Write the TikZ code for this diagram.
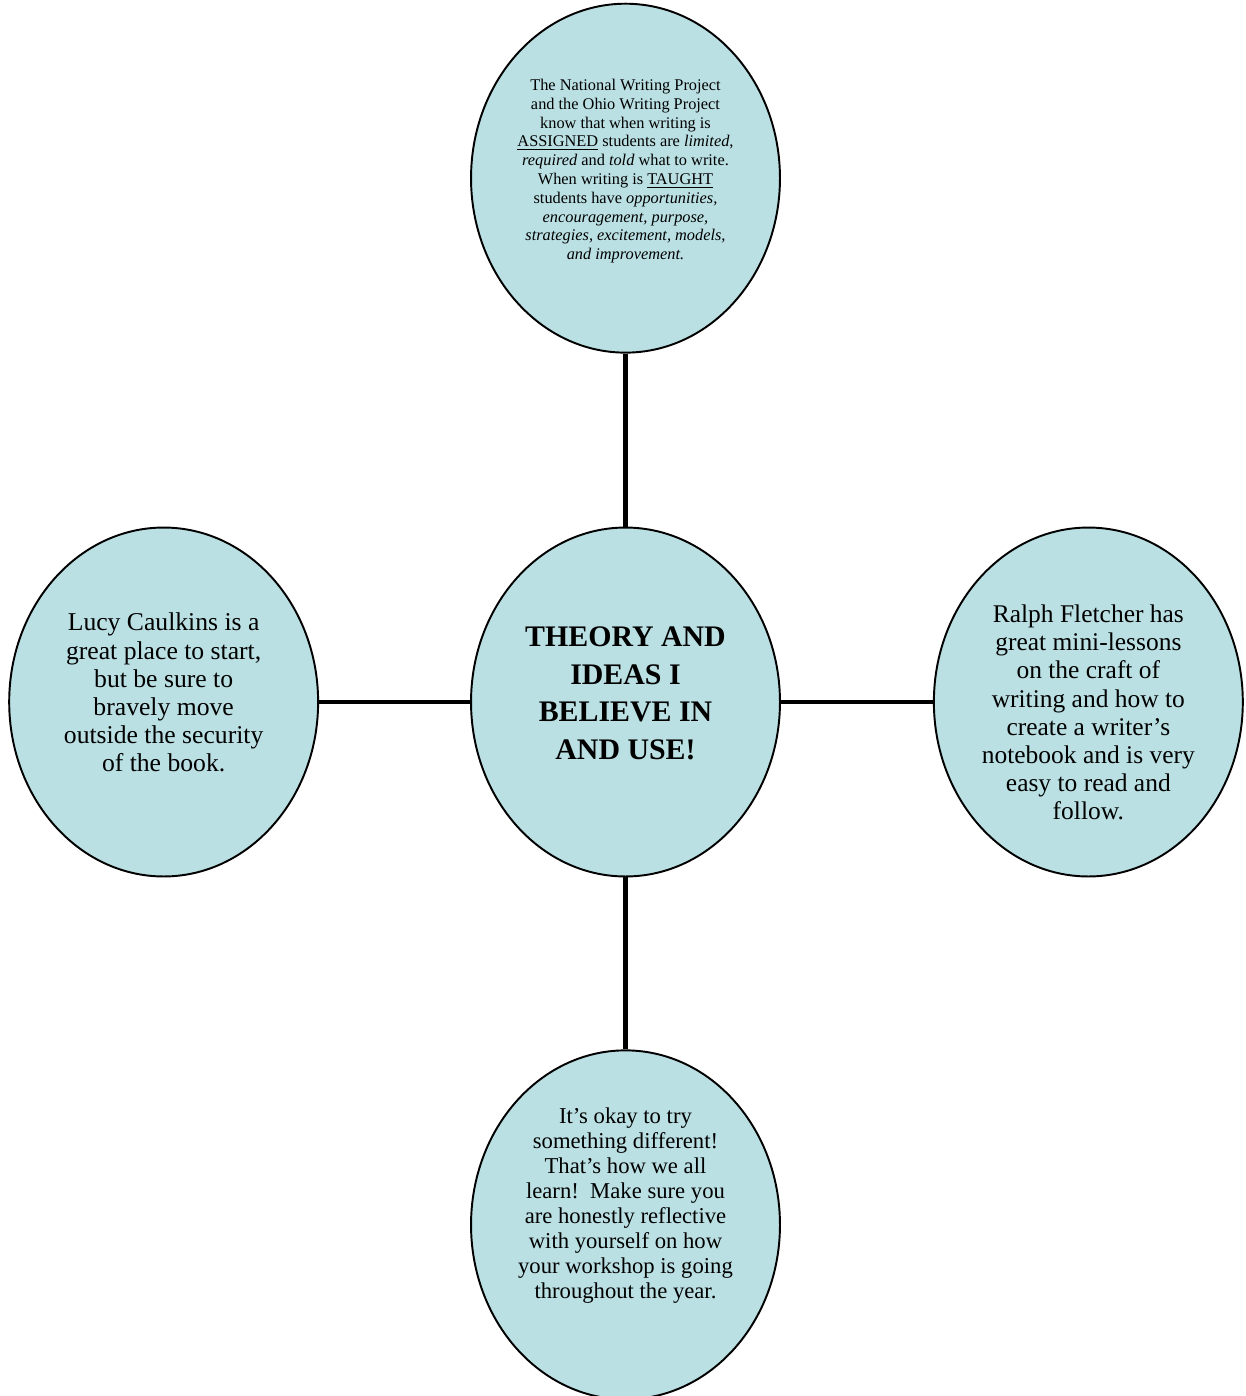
\documentclass[tikz,border=0pt]{standalone}
\usepackage{fontspec}
\setmainfont{Liberation Serif}
\usetikzlibrary{shapes.geometric,positioning}
\definecolor{bubblefill}{HTML}{BAE0E3}

\begin{document}
\begin{tikzpicture}[x=0.02cm, y=-0.02cm,
    bubble/.style={ellipse, draw, line width=1.1pt, fill=bubblefill,
      minimum width=6.18cm, minimum height=6.98cm, inner sep=0pt},
    spoke/.style={line width=2.8pt},
    txt/.style={align=center, inner sep=0pt}]
  \useasboundingbox (0,0) rectangle (1246,1396);
  % the five bubbles
  \node[bubble] (hub) at (625.5,702) {};
  \node[bubble, above=3.46cm of hub] (top) {};
  \node[bubble, below=3.44cm of hub] (bottom) {};
  \node[bubble, left=3.02cm of hub] (left) {};
  \node[bubble, right=3.04cm of hub] (right) {};
  % spokes
  \draw[spoke] (hub) -- (top);
  \draw[spoke] (hub) -- (bottom);
  \draw[spoke] (hub) -- (left);
  \draw[spoke] (hub) -- (right);
  % texts
  \node[txt, font=\fontsize{17}{21.4}\selectfont\bfseries] (hubT)
    at ([yshift=0.17cm]hub.center) {THEORY AND\\IDEAS I\\BELIEVE IN\\AND USE!};
  \node[txt, font=\fontsize{9.3}{10.7}\selectfont] (topT)
    at ([yshift=0.14cm]top.center) {The National Writing Project\\
    and the Ohio Writing Project\\know that when writing is\\
    \underline{ASSIGNED} students are \textit{limited},\\
    \textit{required} and \textit{told} what to write.\\
    When writing is \underline{TAUGHT}\\
    students have \textit{opportunities,}\\
    \textit{encouragement, purpose,}\\
    \textit{strategies, excitement, models,}\\
    \textit{and improvement.}};
  \node[txt, font=\fontsize{14.6}{16}\selectfont] (leftT)
    at ([yshift=0.19cm]left.center) {Lucy Caulkins is a\\great place to start,\\
    but be sure to\\bravely move\\outside the security\\of the book.};
  \node[txt, font=\fontsize{14.5}{16}\selectfont] (rightT)
    at ([yshift=-0.21cm]right.center) {Ralph Fletcher has\\great mini-lessons\\
    on the craft of\\writing and how to\\create a writer’s\\notebook and is very\\
    easy to read and\\follow.};
  \node[txt, font=\fontsize{12.9}{14.2}\selectfont] (bottomT)
    at ([yshift=0.38cm]bottom.center) {It’s okay to try\\something different!\\
    That’s how we all\\learn!\ \ Make sure you\\are honestly reflective\\
    with yourself on how\\your workshop is going\\throughout the year.};
\end{tikzpicture}
\end{document}
